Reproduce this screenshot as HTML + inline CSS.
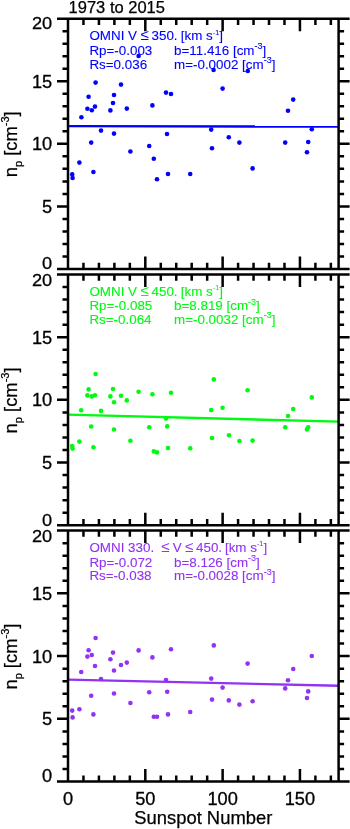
<!DOCTYPE html>
<html lang="en"><head><meta charset="utf-8"><title>1973 to 2015</title>
<style>html,body{margin:0;padding:0;background:#fff}body{width:350px;height:829px;overflow:hidden}svg{display:block}text{font-family:"Liberation Sans", sans-serif}</style>
</head><body>
<svg width="350" height="829" viewBox="0 0 350 829">
<rect width="350" height="829" fill="#fff"/>
<text x="68.6" y="12.8" font-size="16.5" fill="#000" stroke="#000" stroke-width="0.25">1973 to 2015</text>
<g fill="#0000ff">
<circle cx="95.6" cy="82.6" r="2.3"/>
<circle cx="121" cy="84.6" r="2.3"/>
<circle cx="88.6" cy="96.8" r="2.3"/>
<circle cx="114" cy="95" r="2.3"/>
<circle cx="113" cy="103" r="2.3"/>
<circle cx="95" cy="106.6" r="2.3"/>
<circle cx="87.4" cy="108.8" r="2.3"/>
<circle cx="91.8" cy="110.2" r="2.3"/>
<circle cx="110.4" cy="110.4" r="2.3"/>
<circle cx="126.8" cy="108.6" r="2.3"/>
<circle cx="81.4" cy="117.3" r="2.3"/>
<circle cx="101" cy="130.6" r="2.3"/>
<circle cx="114" cy="133.6" r="2.3"/>
<circle cx="91.2" cy="142.6" r="2.3"/>
<circle cx="130.4" cy="151.5" r="2.3"/>
<circle cx="79.4" cy="162.6" r="2.3"/>
<circle cx="93.4" cy="172" r="2.3"/>
<circle cx="72.2" cy="174.4" r="2.3"/>
<circle cx="72.6" cy="178" r="2.3"/>
<circle cx="138.6" cy="56" r="2.3"/>
<circle cx="166" cy="92.6" r="2.3"/>
<circle cx="171" cy="94" r="2.3"/>
<circle cx="152.4" cy="105.4" r="2.3"/>
<circle cx="167" cy="134" r="2.3"/>
<circle cx="149.2" cy="146" r="2.3"/>
<circle cx="153.8" cy="158.7" r="2.3"/>
<circle cx="168" cy="174" r="2.3"/>
<circle cx="190.2" cy="174" r="2.3"/>
<circle cx="157" cy="179.3" r="2.3"/>
<circle cx="213.6" cy="70" r="2.3"/>
<circle cx="247.8" cy="71" r="2.3"/>
<circle cx="222.6" cy="88.6" r="2.3"/>
<circle cx="211.2" cy="129.6" r="2.3"/>
<circle cx="228.8" cy="137.2" r="2.3"/>
<circle cx="239.4" cy="142.6" r="2.3"/>
<circle cx="212" cy="148.2" r="2.3"/>
<circle cx="252.6" cy="168.4" r="2.3"/>
<circle cx="293.2" cy="99.6" r="2.3"/>
<circle cx="288" cy="110.8" r="2.3"/>
<circle cx="311.8" cy="129.2" r="2.3"/>
<circle cx="285.2" cy="142.6" r="2.3"/>
<circle cx="308.2" cy="142" r="2.3"/>
<circle cx="307" cy="152.2" r="2.3"/>
</g>
<line x1="68.0" y1="126.14" x2="338.60" y2="126.57" stroke="#0000ff" stroke-width="2.4"/>
<g fill="#0000ff" stroke="#0000ff" stroke-width="0.1" font-size="13.4">
<text x="89.4" y="40.1" xml:space="preserve">OMNI V <tspan font-size="15.2" dx="-0.3" stroke="none">≤</tspan><tspan dx="-1.0"> </tspan>350. <tspan dx="-0.5">[</tspan>km s<tspan font-size="7.3" dy="-5.6">-1</tspan><tspan dy="5.6">]</tspan></text>
<text x="89.4" y="54.6" xml:space="preserve">Rp=-0.003</text>
<text x="174.0" y="54.6" xml:space="preserve">b=11.416 [cm<tspan font-size="9.0" dy="-5.8">-3</tspan><tspan dy="5.8">]</tspan></text>
<text x="89.4" y="68.5" xml:space="preserve">Rs=0.036</text>
<text x="174.0" y="68.5" xml:space="preserve">m=-0.0002 [cm<tspan font-size="9.0" dy="-5.8">-3</tspan><tspan dy="5.8">]</tspan></text>
</g>
<path d="M68.0 18.75V268.95M338.60 18.75V268.95M57.00 268.95H349.60M62.50 256.44H68.0M338.60 256.44H344.10M62.50 243.93H68.0M338.60 243.93H344.10M62.50 231.42H68.0M338.60 231.42H344.10M62.50 218.91H68.0M338.60 218.91H344.10M57.00 206.40H68.0M338.60 206.40H349.60M62.50 193.89H68.0M338.60 193.89H344.10M62.50 181.38H68.0M338.60 181.38H344.10M62.50 168.87H68.0M338.60 168.87H344.10M62.50 156.36H68.0M338.60 156.36H344.10M57.00 143.85H68.0M338.60 143.85H349.60M62.50 131.34H68.0M338.60 131.34H344.10M62.50 118.83H68.0M338.60 118.83H344.10M62.50 106.32H68.0M338.60 106.32H344.10M62.50 93.81H68.0M338.60 93.81H344.10M57.00 81.30H68.0M338.60 81.30H349.60M62.50 68.79H68.0M338.60 68.79H344.10M62.50 56.28H68.0M338.60 56.28H344.10M62.50 43.77H68.0M338.60 43.77H344.10M62.50 31.26H68.0M338.60 31.26H344.10M57.00 18.75H349.60M83.46 18.75v6.2M83.46 268.95v-6.2M98.93 18.75v6.2M98.93 268.95v-6.2M114.39 18.75v6.2M114.39 268.95v-6.2M129.85 18.75v6.2M129.85 268.95v-6.2M145.31 18.75v12.5M145.31 268.95v-12.5M160.78 18.75v6.2M160.78 268.95v-6.2M176.24 18.75v6.2M176.24 268.95v-6.2M191.70 18.75v6.2M191.70 268.95v-6.2M207.17 18.75v6.2M207.17 268.95v-6.2M222.63 18.75v12.5M222.63 268.95v-12.5M238.09 18.75v6.2M238.09 268.95v-6.2M253.55 18.75v6.2M253.55 268.95v-6.2M269.02 18.75v6.2M269.02 268.95v-6.2M284.48 18.75v6.2M284.48 268.95v-6.2M299.94 18.75v12.5M299.94 268.95v-12.5M315.41 18.75v6.2M315.41 268.95v-6.2M330.87 18.75v6.2M330.87 268.95v-6.2" stroke="#000" stroke-width="2.5" fill="none"/>
<g font-size="17.6" fill="#000" stroke="#000" stroke-width="0.3" text-anchor="end">
<text transform="translate(52.2 29.2) scale(1.035 0.9)">20</text>
<text transform="translate(52.2 87.8) scale(1.035 1)">15</text>
<text transform="translate(52.2 150.3) scale(1.035 1)">10</text>
<text transform="translate(52.2 212.9) scale(1.035 1)">5</text>
<text transform="translate(52.2 269.3) scale(1.035 0.9)">0</text>
</g>
<text transform="translate(17.1 177.3) rotate(-90)" font-size="18.4" fill="#000" stroke="#000" stroke-width="0.25">n<tspan font-size="11" dy="4.5">p</tspan><tspan dy="-4.5"> [cm</tspan><tspan font-size="11" dy="-8.4">-3</tspan><tspan dy="8.4">]</tspan></text>
<g fill="#02f913">
<circle cx="95.6" cy="374" r="2.3"/>
<circle cx="88.6" cy="389.4" r="2.3"/>
<circle cx="113" cy="389" r="2.3"/>
<circle cx="87.4" cy="395.4" r="2.3"/>
<circle cx="91.8" cy="396.4" r="2.3"/>
<circle cx="95" cy="395.2" r="2.3"/>
<circle cx="110.4" cy="396.4" r="2.3"/>
<circle cx="121" cy="395.8" r="2.3"/>
<circle cx="114" cy="402.2" r="2.3"/>
<circle cx="126.8" cy="400.4" r="2.3"/>
<circle cx="81.2" cy="410.3" r="2.3"/>
<circle cx="101" cy="410.9" r="2.3"/>
<circle cx="91.2" cy="426.5" r="2.3"/>
<circle cx="114" cy="429.5" r="2.3"/>
<circle cx="79.4" cy="441.6" r="2.3"/>
<circle cx="130.4" cy="440.8" r="2.3"/>
<circle cx="93.4" cy="447.2" r="2.3"/>
<circle cx="72.2" cy="446" r="2.3"/>
<circle cx="72.6" cy="448.6" r="2.3"/>
<circle cx="138.6" cy="391.8" r="2.3"/>
<circle cx="152.4" cy="394.2" r="2.3"/>
<circle cx="171" cy="392.8" r="2.3"/>
<circle cx="166" cy="418.6" r="2.3"/>
<circle cx="149.2" cy="427.3" r="2.3"/>
<circle cx="167.2" cy="426.4" r="2.3"/>
<circle cx="153.8" cy="451.4" r="2.3"/>
<circle cx="157" cy="452.4" r="2.3"/>
<circle cx="168" cy="448" r="2.3"/>
<circle cx="190.2" cy="448.2" r="2.3"/>
<circle cx="213.8" cy="379.4" r="2.3"/>
<circle cx="247.6" cy="390.2" r="2.3"/>
<circle cx="211.2" cy="410.1" r="2.3"/>
<circle cx="222.6" cy="407.8" r="2.3"/>
<circle cx="229" cy="435.2" r="2.3"/>
<circle cx="212" cy="438" r="2.3"/>
<circle cx="239.4" cy="441" r="2.3"/>
<circle cx="252.6" cy="440.6" r="2.3"/>
<circle cx="311.8" cy="397.4" r="2.3"/>
<circle cx="293.2" cy="409" r="2.3"/>
<circle cx="288" cy="416" r="2.3"/>
<circle cx="285.2" cy="427.2" r="2.3"/>
<circle cx="308.2" cy="427.2" r="2.3"/>
<circle cx="307" cy="429.4" r="2.3"/>
</g>
<line x1="68.0" y1="414.65" x2="338.60" y2="421.67" stroke="#02f913" stroke-width="2.4"/>
<g fill="#02f913" stroke="#02f913" stroke-width="0.1" font-size="13.4">
<text x="89.4" y="295.9" xml:space="preserve">OMNI V <tspan font-size="15.2" dx="-0.3" stroke="none">≤</tspan><tspan dx="-1.0"> </tspan>450. <tspan dx="-0.5">[</tspan>km s<tspan font-size="7.3" dy="-5.6">-1</tspan><tspan dy="5.6">]</tspan></text>
<text x="89.4" y="310.4" xml:space="preserve">Rp=-0.085</text>
<text x="174.0" y="310.4" xml:space="preserve">b=8.819 [cm<tspan font-size="9.0" dy="-5.8">-3</tspan><tspan dy="5.8">]</tspan></text>
<text x="89.4" y="324.2" xml:space="preserve">Rs=-0.064</text>
<text x="174.0" y="324.2" xml:space="preserve">m=-0.0032 [cm<tspan font-size="9.0" dy="-5.8">-3</tspan><tspan dy="5.8">]</tspan></text>
</g>
<path d="M68.0 274.5V525.2M338.60 274.5V525.2M57.00 525.20H349.60M62.50 512.67H68.0M338.60 512.67H344.10M62.50 500.13H68.0M338.60 500.13H344.10M62.50 487.60H68.0M338.60 487.60H344.10M62.50 475.06H68.0M338.60 475.06H344.10M57.00 462.53H68.0M338.60 462.53H349.60M62.50 449.99H68.0M338.60 449.99H344.10M62.50 437.46H68.0M338.60 437.46H344.10M62.50 424.92H68.0M338.60 424.92H344.10M62.50 412.39H68.0M338.60 412.39H344.10M57.00 399.85H68.0M338.60 399.85H349.60M62.50 387.32H68.0M338.60 387.32H344.10M62.50 374.78H68.0M338.60 374.78H344.10M62.50 362.25H68.0M338.60 362.25H344.10M62.50 349.71H68.0M338.60 349.71H344.10M57.00 337.18H68.0M338.60 337.18H349.60M62.50 324.64H68.0M338.60 324.64H344.10M62.50 312.11H68.0M338.60 312.11H344.10M62.50 299.57H68.0M338.60 299.57H344.10M62.50 287.03H68.0M338.60 287.03H344.10M57.00 274.50H349.60M83.46 274.5v6.2M83.46 525.2v-6.2M98.93 274.5v6.2M98.93 525.2v-6.2M114.39 274.5v6.2M114.39 525.2v-6.2M129.85 274.5v6.2M129.85 525.2v-6.2M145.31 274.5v12.5M145.31 525.2v-12.5M160.78 274.5v6.2M160.78 525.2v-6.2M176.24 274.5v6.2M176.24 525.2v-6.2M191.70 274.5v6.2M191.70 525.2v-6.2M207.17 274.5v6.2M207.17 525.2v-6.2M222.63 274.5v12.5M222.63 525.2v-12.5M238.09 274.5v6.2M238.09 525.2v-6.2M253.55 274.5v6.2M253.55 525.2v-6.2M269.02 274.5v6.2M269.02 525.2v-6.2M284.48 274.5v6.2M284.48 525.2v-6.2M299.94 274.5v12.5M299.94 525.2v-12.5M315.41 274.5v6.2M315.41 525.2v-6.2M330.87 274.5v6.2M330.87 525.2v-6.2" stroke="#000" stroke-width="2.5" fill="none"/>
<g font-size="17.6" fill="#000" stroke="#000" stroke-width="0.3" text-anchor="end">
<text transform="translate(52.2 285.5) scale(1.035 0.9)">20</text>
<text transform="translate(52.2 343.7) scale(1.035 1)">15</text>
<text transform="translate(52.2 406.4) scale(1.035 1)">10</text>
<text transform="translate(52.2 469.0) scale(1.035 1)">5</text>
<text transform="translate(52.2 525.6) scale(1.035 0.9)">0</text>
</g>
<text transform="translate(17.1 433.4) rotate(-90)" font-size="18.4" fill="#000" stroke="#000" stroke-width="0.25">n<tspan font-size="11" dy="4.5">p</tspan><tspan dy="-4.5"> [cm</tspan><tspan font-size="11" dy="-8.4">-3</tspan><tspan dy="8.4">]</tspan></text>
<g fill="#9232f2">
<circle cx="95.6" cy="638" r="2.3"/>
<circle cx="88.6" cy="650.2" r="2.3"/>
<circle cx="113" cy="652.6" r="2.3"/>
<circle cx="87.4" cy="656.6" r="2.3"/>
<circle cx="91.8" cy="655" r="2.3"/>
<circle cx="110.4" cy="659.2" r="2.3"/>
<circle cx="95" cy="666" r="2.3"/>
<circle cx="121" cy="665" r="2.3"/>
<circle cx="126.8" cy="662.6" r="2.3"/>
<circle cx="114" cy="670.5" r="2.3"/>
<circle cx="81.2" cy="672" r="2.3"/>
<circle cx="101" cy="679" r="2.3"/>
<circle cx="91.2" cy="695.8" r="2.3"/>
<circle cx="114" cy="693.5" r="2.3"/>
<circle cx="130.4" cy="703" r="2.3"/>
<circle cx="79.4" cy="709.2" r="2.3"/>
<circle cx="72.2" cy="710.6" r="2.3"/>
<circle cx="72.6" cy="717.4" r="2.3"/>
<circle cx="93.4" cy="714.4" r="2.3"/>
<circle cx="138.6" cy="650.4" r="2.3"/>
<circle cx="152.4" cy="657.4" r="2.3"/>
<circle cx="171" cy="649.2" r="2.3"/>
<circle cx="166" cy="680" r="2.3"/>
<circle cx="149.2" cy="692.3" r="2.3"/>
<circle cx="167.2" cy="691.8" r="2.3"/>
<circle cx="153.8" cy="716.8" r="2.3"/>
<circle cx="157" cy="716.8" r="2.3"/>
<circle cx="168" cy="714.4" r="2.3"/>
<circle cx="190.2" cy="712" r="2.3"/>
<circle cx="213.8" cy="645.4" r="2.3"/>
<circle cx="247.6" cy="663.6" r="2.3"/>
<circle cx="211.2" cy="678.6" r="2.3"/>
<circle cx="222.6" cy="687.6" r="2.3"/>
<circle cx="212" cy="699.6" r="2.3"/>
<circle cx="228.8" cy="700.4" r="2.3"/>
<circle cx="239.4" cy="704.6" r="2.3"/>
<circle cx="252.6" cy="701.2" r="2.3"/>
<circle cx="311.8" cy="656" r="2.3"/>
<circle cx="293.2" cy="669" r="2.3"/>
<circle cx="288" cy="680.2" r="2.3"/>
<circle cx="285.2" cy="688.4" r="2.3"/>
<circle cx="308.2" cy="691.4" r="2.3"/>
<circle cx="307" cy="698" r="2.3"/>
</g>
<line x1="68.0" y1="679.62" x2="338.60" y2="685.77" stroke="#9232f2" stroke-width="2.4"/>
<g fill="#9232f2" stroke="#9232f2" stroke-width="0.1" font-size="13.4">
<text x="89.4" y="552.0" xml:space="preserve">OMNI 330.  <tspan font-size="15.2" dx="-0.3" stroke="none">≤</tspan><tspan dx="-0.6"> </tspan>V <tspan font-size="15.2" dx="-0.3" stroke="none">≤</tspan><tspan dx="-1.2"> </tspan>450. <tspan dx="-0.9">[</tspan>km s<tspan font-size="7.3" dy="-5.6">-1</tspan><tspan dy="5.6">]</tspan></text>
<text x="89.4" y="566.5" xml:space="preserve">Rp=-0.072</text>
<text x="174.0" y="566.5" xml:space="preserve">b=8.126 [cm<tspan font-size="9.0" dy="-5.8">-3</tspan><tspan dy="5.8">]</tspan></text>
<text x="89.4" y="580.3" xml:space="preserve">Rs=-0.038</text>
<text x="174.0" y="580.3" xml:space="preserve">m=-0.0028 [cm<tspan font-size="9.0" dy="-5.8">-3</tspan><tspan dy="5.8">]</tspan></text>
</g>
<path d="M68.0 530.6V781.6M338.60 530.6V781.6M57.00 781.60H349.60M62.50 769.05H68.0M338.60 769.05H344.10M62.50 756.50H68.0M338.60 756.50H344.10M62.50 743.95H68.0M338.60 743.95H344.10M62.50 731.40H68.0M338.60 731.40H344.10M57.00 718.85H68.0M338.60 718.85H349.60M62.50 706.30H68.0M338.60 706.30H344.10M62.50 693.75H68.0M338.60 693.75H344.10M62.50 681.20H68.0M338.60 681.20H344.10M62.50 668.65H68.0M338.60 668.65H344.10M57.00 656.10H68.0M338.60 656.10H349.60M62.50 643.55H68.0M338.60 643.55H344.10M62.50 631.00H68.0M338.60 631.00H344.10M62.50 618.45H68.0M338.60 618.45H344.10M62.50 605.90H68.0M338.60 605.90H344.10M57.00 593.35H68.0M338.60 593.35H349.60M62.50 580.80H68.0M338.60 580.80H344.10M62.50 568.25H68.0M338.60 568.25H344.10M62.50 555.70H68.0M338.60 555.70H344.10M62.50 543.15H68.0M338.60 543.15H344.10M57.00 530.60H349.60M83.46 530.6v6.2M83.46 781.6v-6.2M98.93 530.6v6.2M98.93 781.6v-6.2M114.39 530.6v6.2M114.39 781.6v-6.2M129.85 530.6v6.2M129.85 781.6v-6.2M145.31 530.6v12.5M145.31 781.6v-12.5M160.78 530.6v6.2M160.78 781.6v-6.2M176.24 530.6v6.2M176.24 781.6v-6.2M191.70 530.6v6.2M191.70 781.6v-6.2M207.17 530.6v6.2M207.17 781.6v-6.2M222.63 530.6v12.5M222.63 781.6v-12.5M238.09 530.6v6.2M238.09 781.6v-6.2M253.55 530.6v6.2M253.55 781.6v-6.2M269.02 530.6v6.2M269.02 781.6v-6.2M284.48 530.6v6.2M284.48 781.6v-6.2M299.94 530.6v12.5M299.94 781.6v-12.5M315.41 530.6v6.2M315.41 781.6v-6.2M330.87 530.6v6.2M330.87 781.6v-6.2" stroke="#000" stroke-width="2.5" fill="none"/>
<g font-size="17.6" fill="#000" stroke="#000" stroke-width="0.3" text-anchor="end">
<text transform="translate(52.2 541.6) scale(1.035 0.9)">20</text>
<text transform="translate(52.2 599.9) scale(1.035 1)">15</text>
<text transform="translate(52.2 662.6) scale(1.035 1)">10</text>
<text transform="translate(52.2 725.4) scale(1.035 1)">5</text>
<text transform="translate(52.2 782.0) scale(1.035 1)">0</text>
</g>
<text transform="translate(17.1 689.6) rotate(-90)" font-size="18.4" fill="#000" stroke="#000" stroke-width="0.25">n<tspan font-size="11" dy="4.5">p</tspan><tspan dy="-4.5"> [cm</tspan><tspan font-size="11" dy="-8.4">-3</tspan><tspan dy="8.4">]</tspan></text>
<g font-size="17.6" fill="#000" stroke="#000" stroke-width="0.3" text-anchor="middle">
<text transform="translate(68.0 804.8) scale(1.035 1)">0</text>
<text transform="translate(145.3 804.8) scale(1.035 1)">50</text>
<text transform="translate(222.6 804.8) scale(1.035 1)">100</text>
<text transform="translate(299.9 804.8) scale(1.035 1)">150</text>
</g>
<text x="203.3" y="824.1" font-size="18.4" fill="#000" stroke="#000" stroke-width="0.25" text-anchor="middle">Sunspot Number</text>
</svg></body></html>
